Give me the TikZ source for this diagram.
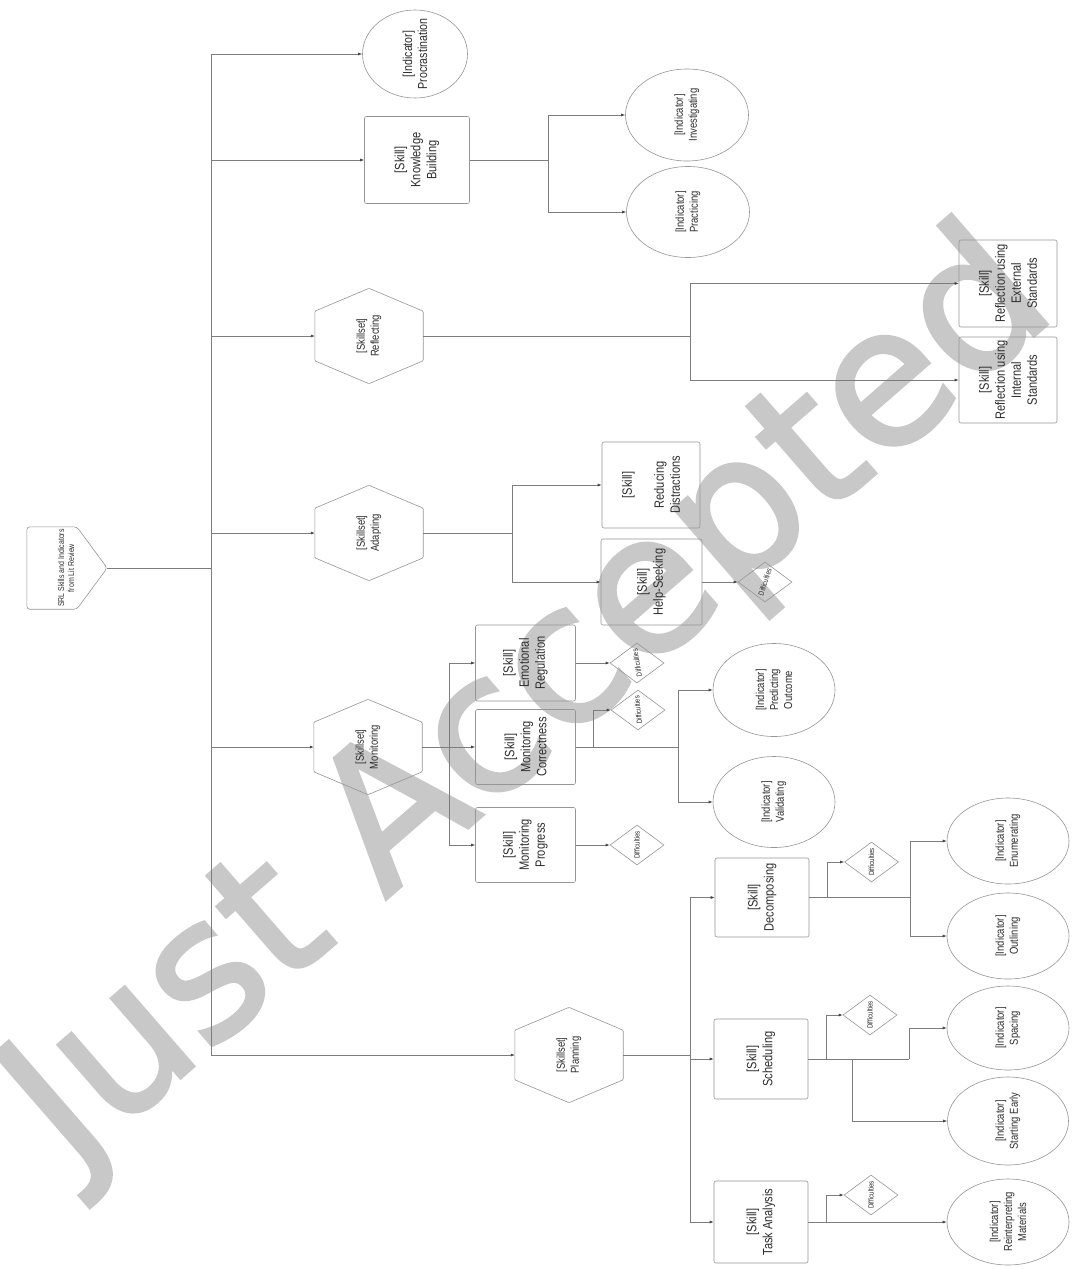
\documentclass[tikz,border=0pt]{standalone}
\usepackage{fontspec}
\setmainfont{Liberation Sans}[FakeStretch=0.82]
\newfontfamily\wmfont{DejaVu Sans}[FakeBold=1.8]
\usetikzlibrary{shapes.geometric,arrows.meta,calc}
\definecolor{ln}{RGB}{125,125,125}
\definecolor{bd}{RGB}{150,150,150}
\definecolor{tx}{RGB}{45,45,45}
\definecolor{wm}{RGB}{200,200,200}
\definecolor{tip}{RGB}{70,70,70}
\newcommand{\fA}{\fontsize{13.5}{16}\selectfont}
\newcommand{\fB}{\fontsize{11.5}{14}\selectfont}
\newcommand{\fC}{\fontsize{13}{15}\selectfont}
\newcommand{\fD}{\fontsize{8.5}{10}\selectfont}
\newcommand{\fE}{\fontsize{7.5}{9}\selectfont}
\tikzset{
  conn/.style={draw=ln, line width=0.6pt, -{Latex[length=4pt,width=3pt,color=tip]}},
  plain/.style={draw=ln, line width=0.6pt},
  bdline/.style={draw=bd, line width=0.6pt},
  box/.style={rectangle, draw=bd, line width=0.6pt, rounded corners=2pt, inner sep=0pt},
  ell/.style={ellipse, draw=bd, line width=0.6pt, inner sep=0pt},
  hexn/.style={rectangle, inner sep=0pt},
  diam/.style={diamond, draw=bd, line width=0.6pt, inner sep=0pt, minimum width=54pt, minimum height=40pt},
  lbl/.style={align=center, inner sep=0pt, text=tx},
}
\newcommand{\nd}[8]{%
  \node[#1, minimum width=#5pt, minimum height=#6pt] (#2) at (#3,#4) {};
  \node[lbl, rotate=90, font=#7] (#2-t) at (#2.center) {#8};}
\newcommand{\dm}[4]{%
  \node[diam] (#1) at (#2,#3) {};
  \node[lbl, rotate=#4, font=\fE] (#1-t) at (#1.center) {Difficulties};}
\newcommand{\hexa}[1]{%
  \draw[bdline, rounded corners=1pt] (#1.north) -- ($(#1.north east)!.24!(#1.south east)$) -- ($(#1.north east)!.76!(#1.south east)$) -- (#1.south) -- ($(#1.north west)!.76!(#1.south west)$) -- ($(#1.north west)!.24!(#1.south west)$) -- cycle;}
\begin{document}
\begin{tikzpicture}[x=1pt,y=-1pt]
\useasboundingbox (0,0) rectangle (1078,1269);
\fill[white] (0,0) rectangle (1078,1269);
% watermark
\node[font=\wmfont\fontsize{192}{192}\selectfont, text=wm, rotate=41, anchor=base west, inner sep=0pt] (wmark) at (72,1172) {Just Accepted};

% root
\node[rectangle, inner sep=0pt, minimum width=80pt, minimum height=82pt] (root) at (67,568) {};
\draw[bdline, rounded corners=3pt] (root.north west) -- ([xshift=50pt]root.north west) -- (root.east) -- ([xshift=50pt]root.south west) -- (root.south west) -- cycle;
\node[lbl, rotate=90, font=\fD] (root-t) at (66,568) {SRL Skills and Indicators\\from Lit Review};

% level 1
\nd{ell}{proc}{415}{54}{105}{88}{\fC}{[Indicator]\\Procrastination}
\nd{box}{kb}{417}{160}{105}{87}{\fA}{[Skill]\\Knowledge\\Building}
\nd{hexn}{refl}{369}{336}{108}{95}{\fB}{[Skillset]\\Reflecting}
\hexa{refl}
\nd{hexn}{adapt}{369}{533}{108}{95}{\fB}{[Skillset]\\Adapting}
\hexa{adapt}
\nd{hexn}{mon}{368}{747}{108}{95}{\fB}{[Skillset]\\Monitoring}
\hexa{mon}
\nd{hexn}{plan}{569}{1055}{108}{95}{\fB}{[Skillset]\\Planning}
\hexa{plan}

% knowledge building children
\nd{ell}{inv}{687}{115}{123}{92}{\fB}{[Indicator]\\Investigating}
\nd{ell}{prac}{688}{212}{123}{91}{\fB}{[Indicator]\\Practicing}

% reflecting children
\nd{box}{ext}{1008}{283.5}{98}{87}{\fA}{[Skill]\\Reflection using\\External\\Standards}
\nd{box}{int}{1008}{380}{98}{86}{\fA}{[Skill]\\Reflection using\\Internal\\Standards}

% adapting children
\nd{box}{red}{651}{485}{98}{86}{\fA}{[Skill]\\[16pt]Reducing\\Distractions}
\nd{box}{hs}{651.5}{582}{101}{86}{\fA}{[Skill]\\Help-Seeking}
\dm{dhs}{765}{582}{72}

% monitoring children
\nd{box}{er}{525.5}{663}{100}{76}{\fA}{[Skill]\\Emotional\\Regulation}
\nd{box}{mc}{525.5}{747}{100}{75}{\fA}{[Skill]\\Monitoring\\Correctness}
\nd{box}{mp}{525.5}{845}{100}{75}{\fA}{[Skill]\\Monitoring\\Progress}
\dm{der}{637}{663}{100}
\dm{dmc}{638}{710}{96}
\dm{dmp}{637}{845}{90}
\nd{ell}{pred}{774}{690}{122}{93}{\fB}{[Indicator]\\Predicting\\Outcome}
\nd{ell}{val}{774}{802}{122}{91}{\fB}{[Indicator]\\Validating}

% planning children
\nd{box}{dec}{762}{897.5}{94}{79}{\fA}{[Skill]\\Decomposing}
\nd{box}{sch}{761}{1059}{94}{80}{\fA}{[Skill]\\Scheduling}
\nd{box}{ta}{761}{1222}{94}{82}{\fA}{[Skill]\\Task Analysis}
\dm{ddec}{871.5}{862}{90}
\dm{dsch}{870}{1015}{90}
\dm{dta}{871}{1195}{90}
\nd{ell}{enum}{1008}{841}{122}{86}{\fB}{[Indicator]\\Enumerating}
\nd{ell}{out}{1008}{936}{122}{86}{\fB}{[Indicator]\\Outlining}
\nd{ell}{spac}{1008}{1028}{122}{84}{\fB}{[Indicator]\\Spacing}
\nd{ell}{early}{1008}{1121}{121}{88}{\fB}{[Indicator]\\Starting Early}
\nd{ell}{rein}{1008}{1222}{122}{86}{\fB}{[Indicator]\\Reinterpreting\\Materials}

% trunk
\coordinate (tr) at (211,568);
\draw[plain] (root.east) -- (tr);
\draw[conn] (tr) |- (proc.west);
\draw[conn] (tr) |- (kb.west);
\draw[conn] (tr) |- (refl.west);
\draw[conn] (tr) |- (adapt.west);
\draw[conn] (tr) |- (mon.west);
\draw[conn] (tr) |- (plan.west);

% knowledge building
\draw[plain] (kb.east) -- ++(78,0) coordinate (kbj);
\draw[conn] (kbj) |- (inv.west);
\draw[conn] (kbj) |- (prac.west);

% reflecting
\draw[plain] (refl.east) -- ++(267,0) coordinate (rfj);
\draw[conn] (rfj) |- (ext.west);
\draw[conn] (rfj) |- (int.west);

% adapting
\draw[plain] (adapt.east) -- ++(89,0) coordinate (adj);
\draw[conn] (adj) |- (red.west);
\draw[conn] (adj) |- (hs.west);
\draw[conn] (hs.east) -- (dhs.west);

% monitoring
\draw[plain] (mon.east) -- ++(27,0) coordinate (mnj);
\draw[conn] (mnj) |- (er.west);
\draw[conn] (mnj) |- (mc.west);
\draw[conn] (mnj) |- (mp.west);
\draw[conn] (er.east) -- (der.west);
\draw[conn] (mp.east) -- (dmp.west);
\draw[plain] (mc.east) -- ++(17.5,0) coordinate (mcj1) -- ++(85,0) coordinate (mcj2);
\draw[conn] (mcj1) |- (dmc.west);
\draw[conn] (mcj2) |- (pred.west);
\draw[conn] (mcj2) |- (val.west);

% planning
\draw[plain] (plan.east) -- ++(67,0) coordinate (plj);
\draw[conn] (plj) |- (dec.west);
\draw[conn] (plj) |- (sch.west);
\draw[conn] (plj) |- (ta.west);

\draw[plain] (dec.east) -- ++(18,0) coordinate (dj1) -- ++(83,0) coordinate (dj2);
\draw[conn] (dj1) |- (ddec.west);
\draw[conn] (dj2) |- (enum.west);
\draw[conn] (dj2) |- (out.west);

\draw[plain] (sch.east) -- ++(18,0) coordinate (sj1) -- ++(26,0) coordinate (sj2) -- ++(57,0) coordinate (sj3);
\draw[conn] (sj1) |- (dsch.west);
\draw[conn] (sj3) |- (spac.west);
\draw[conn] (sj2) |- (early.west);

\path (ta.east) -- ++(18,0) coordinate (tj);
\draw[conn] (ta.east) -- (rein.west);
\draw[conn] (tj) |- (dta.west);
\end{tikzpicture}
\end{document}
